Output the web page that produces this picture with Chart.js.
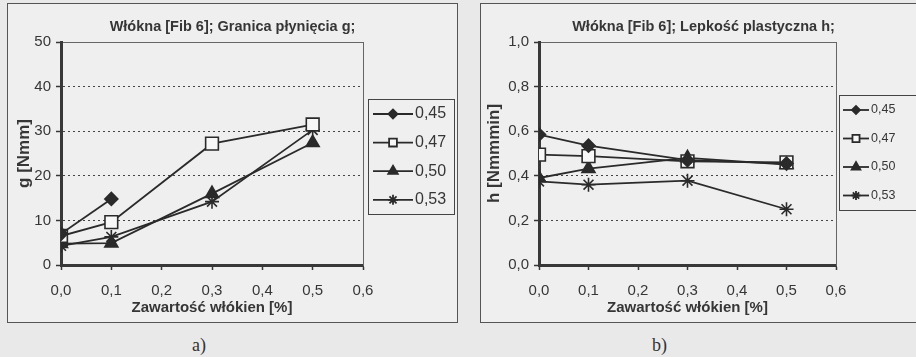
<!DOCTYPE html>
<html><head><meta charset="utf-8">
<script src="https://cdn.jsdelivr.net/npm/chart.js@4"></script>
<style>
html,body{margin:0;padding:0;width:916px;height:357px;overflow:hidden;background:#e9e9e9;}
.panel{position:absolute;border:1px solid #555;background:#efefef;}
#pa{left:7px;top:3px;width:449px;height:318px;}
#pb{left:480px;top:3px;width:445px;height:318px;}
canvas{display:block;}
.lab{position:absolute;font-family:"Liberation Serif","DejaVu Serif",serif;font-size:18px;color:#333;line-height:20px;}
</style></head>
<body>
<div class="panel" id="pa"><canvas id="ca" width="449" height="318"></canvas></div>
<div class="panel" id="pb"><canvas id="cb" width="445" height="318"></canvas></div>
<div class="lab" style="left:192px;top:335px">a)</div>
<div class="lab" style="left:652px;top:335px">b)</div>
<script>
// ---- data ----
const fiberContent = [0.0, 0.1, 0.3, 0.5];
const seriesLabels = ['0,45', '0,47', '0,50', '0,53'];
const g045 = [7.0, 14.8, null, null];
const g047 = [6.5, 9.6, 27.2, 31.5];
const g050 = [4.8, 4.9, 16.0, 27.4];
const g053 = [4.3, 6.3, 14.2, 30.3];
const h045 = [0.585, 0.535, 0.47, 0.455];
const h047 = [0.495, 0.488, 0.465, 0.46];
const h050 = [0.39, 0.432, 0.48, 0.45];
const h053 = [0.375, 0.36, 0.378, 0.25];
const xTickLabels = ['0,0', '0,1', '0,2', '0,3', '0,4', '0,5', '0,6'];
const gTickLabels = ['0', '10', '20', '30', '40', '50'];
const hTickLabels = ['0,0', '0,2', '0,4', '0,6', '0,8', '1,0'];
const titleA = 'Włókna [Fib 6]; Granica płynięcia g;';
const titleB = 'Włókna [Fib 6]; Lepkość plastyczna h;';
const xTitle = 'Zawartość włókien [%]';
const yTitleA = 'g [Nmm]';
const yTitleB = 'h [Nmmmin]';

// ---- styles ----
const FONT = '"Liberation Sans", Arial, sans-serif';
const INK = '#363636';
const LINE = '#2a2a2a';
const markers = ['rectRot', 'rect', 'triangle', 'star'];
const markerRadius = [6.5, 9, 7.5, 7];
const markerFill = [LINE, '#f7f7f7', LINE, LINE];

function makeDatasets(series) {
  return series.map((vals, i) => ({
    label: seriesLabels[i],
    data: fiberContent.map((x, j) => ({x: x, y: vals[j]})),
    borderColor: LINE,
    borderWidth: 1.8,
    pointStyle: markers[i],
    pointRadius: markerRadius[i],
    pointBackgroundColor: markerFill[i],
    pointBorderColor: LINE,
    pointBorderWidth: 1.6,
    spanGaps: false,
    tension: 0
  }));
}

const boxLegend = {
  id: 'boxLegend',
  afterDraw(chart, args, o) {
    const ctx = chart.ctx;
    ctx.save();
    ctx.strokeStyle = '#444';
    ctx.lineWidth = 1;
    ctx.strokeRect(o.x + 0.5, o.y + 0.5, o.w, o.h);
    chart.data.datasets.forEach((ds, i) => {
      const y = o.y0 + i * o.dy;
      ctx.strokeStyle = ds.borderColor;
      ctx.lineWidth = 1.8;
      ctx.beginPath(); ctx.moveTo(o.lx0, y); ctx.lineTo(o.lx1, y); ctx.stroke();
      ctx.fillStyle = ds.pointBackgroundColor;
      ctx.strokeStyle = ds.pointBorderColor;
      Chart.helpers.drawPoint(ctx, {pointStyle: ds.pointStyle, radius: o.r[i], borderWidth: 1.5, rotation: 0}, (o.lx0 + o.lx1) / 2, y);
      ctx.fillStyle = INK;
      ctx.font = o.font;
      ctx.textBaseline = 'middle';
      ctx.textAlign = 'left';
      ctx.fillText(ds.label, o.tx, y);
    });
    ctx.restore();
  }
};

function makeChart(id, series, cfg) {
  return new Chart(document.getElementById(id), {
    type: 'line',
    data: {datasets: makeDatasets(series)},
    plugins: [boxLegend],
    options: {
      responsive: false,
      animation: false,
      devicePixelRatio: 1,
      layout: {padding: 0},
      plugins: {
        legend: {display: false},
        tooltip: {enabled: false},
        title: {display: true, text: cfg.title, color: INK,
          font: {family: FONT, size: 14.5, weight: 'bold'}, padding: {top: 14.3, bottom: 6.3}},
        boxLegend: cfg.legend
      },
      scales: {
        x: {
          type: 'linear', position: 'bottom', min: 0, max: 0.6,
          afterFit: s => { s.height = 57; },
          ticks: {stepSize: 0.1, color: INK, font: {family: FONT, size: 15}, padding: 12,
            maxRotation: 0, autoSkip: false, callback: (v, i) => xTickLabels[i]},
          grid: {display: true, drawOnChartArea: false, drawTicks: true, tickLength: 5, tickColor: INK, tickWidth: 1.5},
          border: {display: true, color: '#383838', width: 3},
          title: {display: true, text: xTitle, color: INK, font: {family: FONT, size: 15, weight: 'bold'}, padding: {top: 0, bottom: 5}}
        },
        x2: {
          type: 'linear', position: 'top', min: 0, max: 0.6, display: true,
          afterFit: s => { s.height = 0; },
          ticks: {display: false}, grid: {display: false},
          border: {display: true, color: '#666', width: 1}
        },
        y: {
          type: 'linear', position: 'left', min: 0, max: cfg.ymax,
          afterFit: s => { s.width = cfg.yWidth; },
          ticks: {stepSize: cfg.ystep, color: INK, font: {family: FONT, size: 15}, padding: 5,
            callback: (v, i) => cfg.yLabels[i]},
          grid: {display: true, drawTicks: true, tickLength: 5, tickColor: INK, tickWidth: 1.5, lineWidth: 1,
            color: c => (c.tick && (c.tick.value <= 0 || c.tick.value >= cfg.ymax - 1e-9)) ? 'rgba(0,0,0,0)' : '#444'},
          border: {display: true, color: '#383838', width: 3, dash: [2, 3]},
          title: {display: true, text: cfg.yTitle, color: INK, font: {family: FONT, size: 17, weight: 'bold'}, padding: {top: cfg.yTitlePad, bottom: 0}}
        },
        y2: {
          type: 'linear', position: 'right', min: 0, max: 1, display: true,
          afterFit: s => { s.width = cfg.rightWidth; },
          ticks: {display: false}, grid: {display: false},
          border: {display: true, color: '#666', width: 1}
        }
      }
    }
  });
}

makeChart('ca', [g045, g047, g050, g053], {
  title: titleA, ymax: 50, ystep: 10, yLabels: gTickLabels, yTitle: yTitleA,
  yWidth: 53, rightWidth: 94, yTitlePad: 5.8,
  legend: {x: 360, y: 95, w: 86, h: 115, y0: 110, dy: 28.6, lx0: 365, lx1: 405, tx: 407,
    r: [4.5, 5.5, 5.5, 5], font: '16px ' + FONT}
});
makeChart('cb', [h045, h047, h050, h053], {
  title: titleB, ymax: 1.0, ystep: 0.2, yLabels: hTickLabels, yTitle: yTitleB,
  yWidth: 58, rightWidth: 90, yTitlePad: 2.8,
  legend: {x: 358, y: 91, w: 90, h: 115, y0: 106, dy: 28.5, lx0: 362, lx1: 388, tx: 390,
    r: [4, 5, 5, 4.5], font: '12.5px ' + FONT}
});
</script>
</body></html>
